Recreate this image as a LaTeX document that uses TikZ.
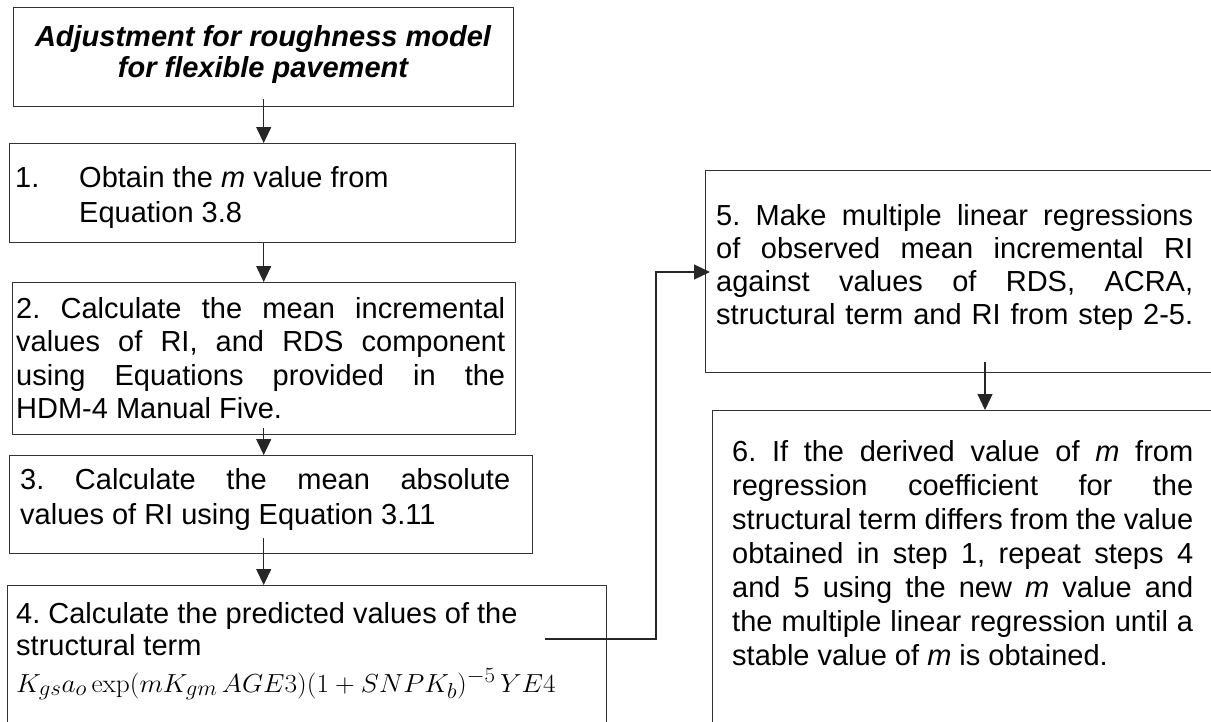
\documentclass[tikz,border=0pt]{standalone}
\usepackage[no-math]{fontspec}
\setmainfont{Liberation Sans}
\usetikzlibrary{arrows.meta,calc}
\newcommand{\jline}[2]{\makebox[#1pt][s]{#2}}
\frenchspacing
\begin{document}
\begin{tikzpicture}[x=1pt,y=-1pt,
  box/.style={draw=black!80, line width=1.4pt, anchor=north west, inner sep=0pt},
  txt/.style={anchor=base west, inner sep=0pt, font=\fontsize{29}{34}\selectfont},
  ttl/.style={anchor=base, inner sep=0pt, font=\fontsize{29}{34}\selectfont\bfseries\itshape},
  arr/.style={draw=black!85, line width=1.1pt, -{Triangle[length=16pt,width=15pt]}}]
\useasboundingbox (0,0) rectangle (1211,721);
\clip (0,0) rectangle (1211,721);
% boxes
\node[box, minimum width=500pt, minimum height=99pt] (title) at (13,7) {};
\node[box, minimum width=506pt, minimum height=99pt] (b1) at (9,143) {};
\node[box, minimum width=503pt, minimum height=152pt] (b2) at (12,282) {};
\node[box, minimum width=523pt, minimum height=98pt] (b3) at (9,455) {};
\node[box, minimum width=599pt, minimum height=200pt] (b4) at (7,585) {};
\node[box, minimum width=600pt, minimum height=202pt] (b5) at (705,170) {};
\node[box, minimum width=600pt, minimum height=400pt] (b6) at (712,410) {};
% title
\node[ttl] (t1) at (263,46) {Adjustment for roughness model};
\node[ttl] (t2) at (263,77) {for flexible pavement};
% box 1
\node[txt] (n1) at (15,187) {1.};
\node[txt] (l11) at (79,187) {Obtain the \textit{m} value from};
\node[txt] (l12) at (79,222) {Equation 3.8};
% box 2
\node[txt] (l21) at (16,318) {\jline{489}{2. Calculate the mean incremental}};
\node[txt] (l22) at (16,351) {\jline{489}{values of RI, and RDS component}};
\node[txt] (l23) at (16,385) {\jline{489}{using Equations provided in the}};
\node[txt] (l24) at (16,418) {HDM-4 Manual Five.};
% box 3
\node[txt] (l31) at (20,489) {\jline{490}{3. Calculate the mean absolute}};
\node[txt] (l32) at (20,524) {values of RI using Equation 3.11};
% box 4
\node[txt] (l41) at (16,623) {4. Calculate the predicted values of the};
\node[txt] (l42) at (16,655) {structural term};
\node[txt] (l43) at (16,692) {\scalebox{1.1}[1.05]{$K_{gs}a_o\exp\bigl(mK_{gm}\,AGE3\bigr)(1+SNPK_b)^{-5}\,YE4$}};
% box 5
\node[txt] (l51) at (716,225) {\jline{477}{5. Make multiple linear regressions}};
\node[txt] (l52) at (716,258) {\jline{477}{of observed mean incremental RI}};
\node[txt] (l53) at (716,291) {\jline{477}{against values of RDS, ACRA,}};
\node[txt] (l54) at (716,324) {\jline{477}{structural term and RI from step 2-5.}};
% box 6
\node[txt] (l61) at (732,461) {\jline{461}{6. If the derived value of \textit{m} from}};
\node[txt] (l62) at (732,495) {\jline{461}{regression coefficient for the}};
\node[txt] (l63) at (732,529) {\jline{461}{structural term differs from the value}};
\node[txt] (l64) at (732,563) {\jline{461}{obtained in step 1, repeat steps 4}};
\node[txt] (l65) at (732,597) {\jline{461}{and 5 using the new \textit{m} value and}};
\node[txt] (l66) at (732,631) {\jline{461}{the multiple linear regression until a}};
\node[txt] (l67) at (732,665) {stable value of \textit{m} is obtained.};
% connectors
\coordinate (c0) at ($(title.south)+(0,-8)$);
\draw[arr] (c0) -- (c0 |- b1.north);
\draw[arr] (b1.south -| c0) -- (c0 |- b2.north);
\coordinate (c2) at ($(b2.south -| c0)+(0,-7)$);
\draw[arr] (c2) -- (c0 |- b3.north);
\coordinate (c3) at ($(b3.south -| c0)+(0,-16)$);
\draw[arr] (c3) -- (c0 |- b4.north);
\coordinate (c4) at (545,639);
\coordinate (bend) at (656,639);
\coordinate (c5) at (656,272);
\draw[arr, shorten >=-5pt] (c4) -- (bend) -- (c5) -- (c5 -| b5.west);
\coordinate (c6) at (985,362);
\draw[arr] (c6) -- (c6 |- b6.north);
\end{tikzpicture}
\end{document}
